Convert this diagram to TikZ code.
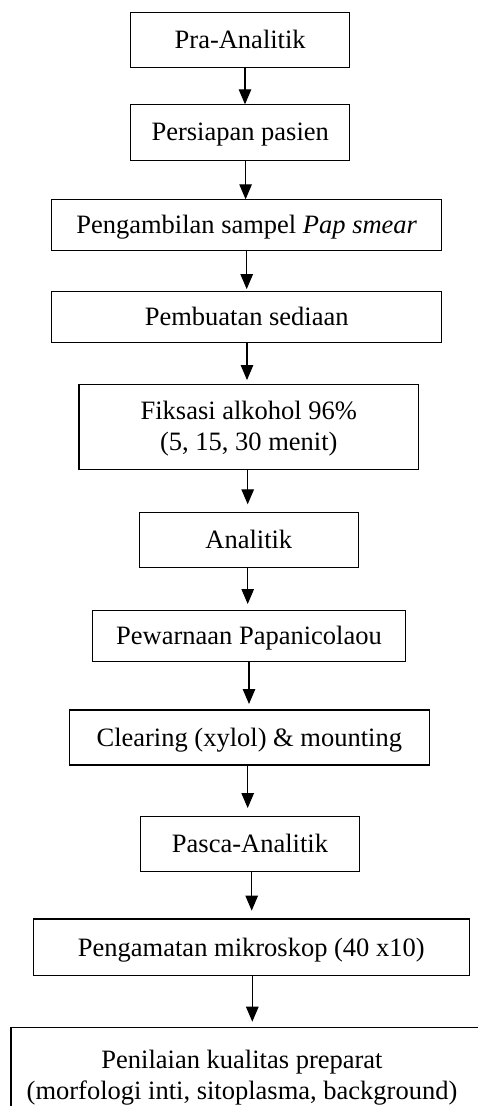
\documentclass[tikz,border=0pt]{standalone}
\usepackage{fontspec}
\setmainfont{Liberation Serif}
\usetikzlibrary{arrows.meta}
\begin{document}
\begin{tikzpicture}[x=1pt,y=-1pt,
  lbl/.style={font=\fontsize{26.5}{31}\selectfont},
  box/.style={draw, line width=1.1pt, inner sep=0pt, outer sep=0pt, text height=17.5pt, text depth=0pt, lbl},
  arr/.style={line width=1.1pt, -{Triangle[length=15pt,width=12.5pt]}},
  txt/.style={inner sep=0pt, outer sep=0pt, lbl}]
\path[use as bounding box] (0,0) rectangle (478,1106);
\node[box, minimum width=219pt, minimum height=55pt] (b1) at (240.2,39.8) {Pra-Analitik};
\node[box, minimum width=219pt, minimum height=55.7pt] (b2) at (240.2,132.2) {Persiapan pasien};
\node[box, minimum width=390pt, minimum height=51pt] (b3) at (246.7,224.8) {Pengambilan sampel \textit{Pap smear}};
\node[box, minimum width=390pt, minimum height=50.6pt] (b4) at (246.7,317) {Pembuatan sediaan};
\node[box, minimum width=339.7pt, minimum height=85.3pt, text depth=31pt] (b5) at (248.8,426.7) {\begin{tabular}[t]{@{}c@{}}Fiksasi alkohol 96\%\\(5, 15, 30 menit)\end{tabular}};
\node[box, minimum width=219pt, minimum height=55pt] (b6) at (248.8,539.8) {Analitik};
\node[box, minimum width=312.6pt, minimum height=51pt] (b7) at (249,636.2) {Pewarnaan Papanicolaou};
\node[box, minimum width=360pt, minimum height=55pt] (b8) at (249.3,737.5) {Clearing (xylol) \& mounting};
\node[box, minimum width=218.6pt, minimum height=55.3pt] (b9) at (250,843.7) {Pasca-Analitik};
\node[box, minimum width=436pt, minimum height=56.7pt] (b10) at (251.3,947.3) {Pengamatan mikroskop (40 x10)};
\node[draw, line width=1.1pt, inner sep=0pt, outer sep=0pt, minimum width=484pt, minimum height=120pt, anchor=north west] (b11) at (11,1027.7) {};
\node[txt, anchor=base] (t11) at (242,1068) {\begin{tabular}[t]{@{}c@{}}Penilaian kualitas preparat\\(morfologi inti, sitoplasma, background)\end{tabular}};
\coordinate (e10) at ([xshift=1pt]b10.south |- b11.north);
\draw[arr] ([xshift=4.8pt]b1.south) -- ([xshift=4.8pt]b2.north);
\draw[arr] ([xshift=5.4pt]b2.south) -- ([xshift=5.4pt]b2.south |- b3.north);
\draw[arr] (b3.south) -- ([yshift=2.6pt]b4.north);
\draw[arr] ([xshift=0.3pt]b4.south) -- ([xshift=0.3pt,yshift=4pt]b4.south |- b5.north);
\draw[arr] ([xshift=-1.1pt]b5.south) -- ([xshift=-1.1pt,yshift=8pt]b6.north);
\draw[arr] ([xshift=-1.1pt]b6.south) -- ([xshift=-1.1pt,yshift=6.7pt]b6.south |- b7.north);
\draw[arr] (b7.south) -- ([yshift=6pt]b7.south |- b8.north);
\draw[arr] ([xshift=-1.6pt]b8.south) -- ([xshift=-1.6pt,yshift=8pt]b8.south |- b9.north);
\draw[arr] ([xshift=1.7pt]b9.south) -- ([xshift=1.7pt,yshift=8.3pt]b9.south |- b10.north);
\draw[arr] ([xshift=1pt]b10.south) -- ([yshift=6pt]e10);
\end{tikzpicture}
\end{document}
